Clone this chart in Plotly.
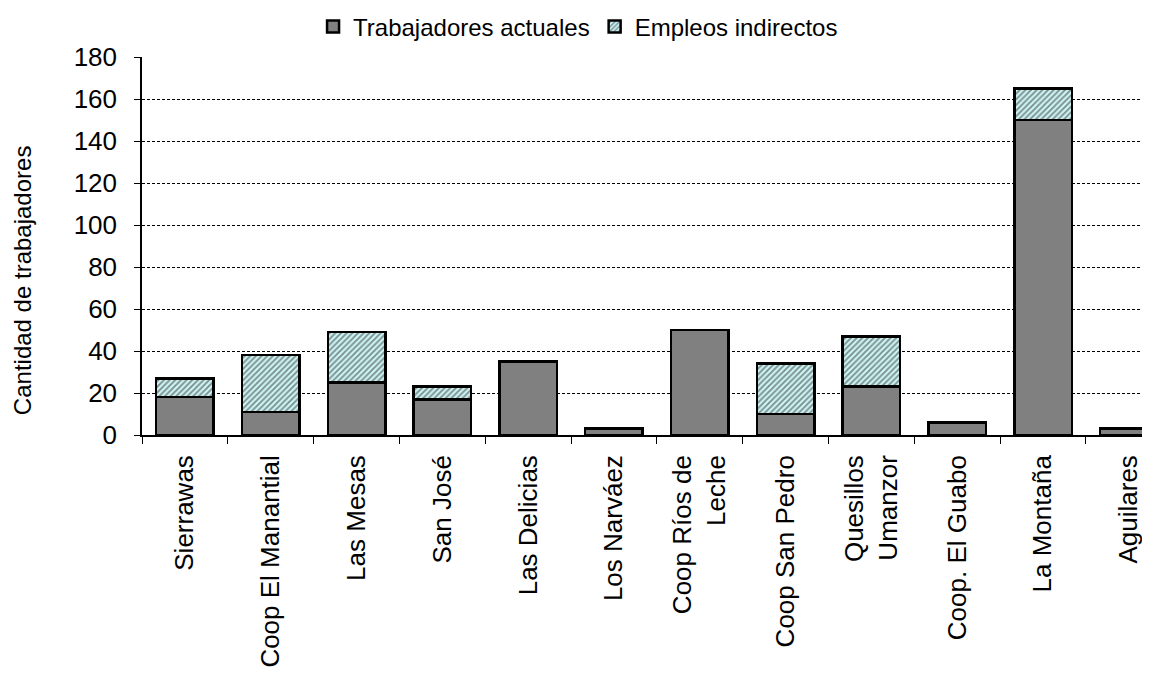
import plotly.graph_objects as go

categories = ["Sierrawas", "Coop El Manantial", "Las Mesas", "San José", "Las Delicias",
              "Los Narváez", "Coop Ríos de<br>Leche", "Coop San Pedro", "Quesillos<br>Umanzor",
              "Coop. El Guabo", "La Montaña", "Aguilares"]
actuales = [18, 11, 25, 17, 35, 3, 50, 10, 23, 6, 150, 3]
indirectos = [9, 27, 24, 6, None, None, None, 24, 24, None, 15, None]
y_ticks = [0, 20, 40, 60, 80, 100, 120, 140, 160, 180]
y_title = "Cantidad de trabajadores"

FONT = "Liberation Sans, Arial, sans-serif"

fig = go.Figure()
fig.add_trace(go.Bar(
    x=categories, y=actuales, name="Trabajadores actuales",
    marker=dict(color="#808080", line=dict(color="black", width=2.5)),
    width=0.67,
))
fig.add_trace(go.Bar(
    x=categories, y=indirectos, name="Empleos indirectos",
    marker=dict(color="#ccf4f4", line=dict(color="black", width=2.5),
                pattern=dict(shape="/", bgcolor="#ccf4f4", fgcolor="#7a8c8c",
                             size=4, solidity=0.45, fillmode="replace")),
    width=0.67,
))

fig.update_layout(
    barmode="stack",
    width=1150, height=677,
    paper_bgcolor="white", plot_bgcolor="white",
    margin=dict(l=134, r=0, t=49, b=250, autoexpand=False),
    font=dict(family=FONT, color="black", size=24),
    showlegend=True,
    legend=dict(orientation="h", xref="container", yref="container",
                x=0.4957, xanchor="center", y=0.972, yanchor="middle",
                traceorder="normal", font=dict(size=24), itemwidth=30,
                bgcolor="rgba(0,0,0,0)"),
    xaxis=dict(
        type="category", range=[-0.5, 11.34],
        tickangle=-90, tickson="boundaries", ticks="outside", ticklen=7,
        tickcolor="black", tickwidth=1, ticklabelstandoff=8,
        showline=True, linecolor="black", linewidth=1.5,
        showgrid=False, tickfont=dict(size=26), automargin=False,
    ),
    yaxis=dict(
        range=[0, 180], tickvals=y_ticks, ticks="outside", ticklen=6,
        tickcolor="black", showline=True, linecolor="black", linewidth=1.5,
        ticklabelstandoff=12, automargin=False,
        showgrid=True, gridcolor="black", gridwidth=1, griddash="3px,2px",
        zeroline=False, tickfont=dict(size=26),
    ),
    annotations=[dict(
        text=y_title, textangle=-90, xref="paper", yref="paper",
        x=-0.118, y=0.41, xanchor="center", yanchor="middle",
        showarrow=False, font=dict(size=24),
    )],
)

fig.write_html("out.html")
